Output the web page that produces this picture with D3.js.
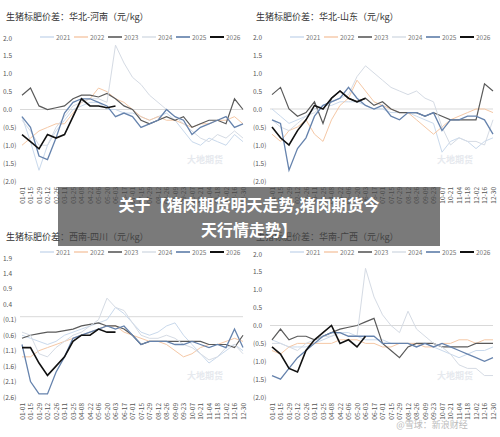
<!DOCTYPE html>
<html><head><meta charset="utf-8">
<script src="https://cdn.jsdelivr.net/npm/d3@7"></script>
<style>body{margin:0;background:#fff}text{font-family:"Noto Sans CJK SC","Noto Sans",sans-serif}</style>
</head><body><div id="chart"></div>
<script>
const dates = ["01-01","01-15","01-29","02-12","02-26","03-11","03-25","04-08","04-22","05-06","05-20","06-03","06-17","07-01","07-15","07-29","08-12","08-26","09-09","09-23","10-07","10-21","11-04","11-18","12-02","12-16","12-30"];
const years = ["2021","2022","2023","2024","2025","2026"];
const colors = ["#c9d9ec","#f5c8a6","#5a5a5a","#d5dbe4","#6683ad","#111"];
const widths = [1,1,1.2,1,1.3,1.6];

const henan = [
  [-0.2,-0.9,-1.7,-1.0,-0.6,-0.3,0.0,0.1,0.2,0.2,0.0,0.0,-0.1,-0.1,-0.2,-0.3,-0.2,-0.1,-0.3,-0.6,-0.9,-1.0,-0.8,-0.9,-1.0,-0.7,-0.9],
  [-1.0,-0.8,-0.6,-0.5,-0.4,-0.4,-0.1,0.2,0.3,0.6,0.5,0.3,0.2,0.0,-0.2,-0.3,-0.2,-0.3,-0.3,-0.4,-0.5,-0.4,-0.4,-0.3,-0.3,-0.2,-0.4],
  [0.4,0.6,0.1,0.0,0.05,0.1,0.3,0.4,0.4,0.35,0.45,0.3,0.1,0.0,-0.3,-0.4,-0.3,-0.2,-0.3,-0.2,-0.5,-0.4,-0.3,-0.3,-0.4,0.3,0.0],
  [-0.3,-0.6,-1.0,-1.0,-0.5,-0.2,0.1,0.2,0.3,0.3,0.2,1.8,1.3,0.9,0.7,0.4,0.2,0.0,-0.2,-0.4,-0.6,-0.8,-0.9,-0.7,-0.8,-0.6,-0.8],
  [-0.2,-0.5,-1.3,-1.4,-0.8,-0.1,0.2,0.3,0.3,0.2,0.1,-0.2,-0.1,-0.2,-0.5,-0.4,-0.3,0.0,-0.2,-0.3,-0.7,-0.5,-0.4,-0.3,-0.2,-0.5,-0.4],
  [-0.7,-0.9,-1.1,-0.7,-0.8,-0.7,-0.2,0.3,0.1,0.1,0.05,0.1]
];
const shandong = [
  [0.0,-0.2,-0.4,-0.3,-0.2,0.0,0.1,0.1,0.2,0.2,0.2,0.1,0.0,0.0,-0.1,-0.1,-0.1,-0.2,-0.3,-0.4,-1.2,-0.9,-0.8,-0.9,-1.1,-0.9,-0.8],
  [-0.7,-0.9,-0.6,-0.5,-0.3,-0.7,-0.9,-0.3,0.1,0.3,0.8,0.5,0.2,0.1,0.0,-0.1,-0.1,-0.3,-0.5,-0.7,-0.5,-0.3,-0.2,-0.1,0.0,0.0,-0.1],
  [0.4,0.6,0.0,-0.2,-0.1,0.2,-0.4,0.3,0.5,0.3,0.2,0.3,0.1,0.2,0.0,-0.1,-0.1,-0.1,-0.2,-0.1,-0.2,-0.3,-0.3,-0.3,-0.3,0.7,0.5],
  [-0.3,-0.5,-0.6,-0.4,-0.2,-0.1,0.1,0.2,0.3,0.4,0.9,1.2,1.0,0.8,0.6,0.5,0.4,0.5,0.3,0.2,-0.5,-1.0,-0.8,-0.9,-0.9,-1.0,-0.3],
  [-0.3,-0.4,-1.7,-1.1,-0.8,-0.2,0.1,0.2,0.3,0.6,0.3,0.1,0.0,0.1,-0.2,-0.3,-0.1,-0.1,-0.2,-0.1,-0.6,-0.3,-0.3,-0.2,-0.2,-0.3,-0.7],
  [-0.5,-0.8,-1.0,-0.6,-0.3,0.1,0.0,0.3,0.5,0.3,0.2,0.3]
];
const sichuan = [
  [-0.6,-0.7,-0.8,-0.9,-0.8,-0.6,-0.5,-0.4,-0.3,-0.2,-0.1,0.3,0.1,-0.2,-0.5,-0.6,-0.5,-0.3,-0.2,-0.6,-0.9,-1.2,-1.5,-1.3,-1.1,-0.9,-1.1],
  [-1.3,-1.3,-1.1,-1.0,-0.9,-0.8,-0.7,-0.6,-0.5,-0.4,-0.3,-0.3,-0.5,-0.6,-0.7,-0.8,-0.8,-0.9,-1.1,-1.3,-1.2,-1.0,-0.9,-0.9,-0.8,-0.7,-0.8],
  [-0.7,-0.6,-0.55,-0.5,-0.5,-0.45,-0.4,-0.3,-0.25,-0.2,-0.3,-0.3,-0.4,-0.6,-0.9,-0.8,-0.8,-0.8,-0.8,-0.8,-0.8,-0.8,-0.9,-0.9,-0.9,-1.0,-0.6],
  [-0.5,-0.6,-1.2,-1.3,-1.0,-0.8,-0.6,-0.5,-0.3,-0.1,0.6,0.3,0.2,-0.2,-0.6,-0.7,-0.7,-0.6,-0.7,-0.9,-1.0,-1.2,-1.4,-1.3,-1.0,-0.9,-1.2],
  [-0.9,-2.1,-2.5,-2.5,-1.8,-1.3,-0.7,-0.6,-0.5,-0.4,-0.3,-0.4,-0.3,-0.6,-0.9,-0.8,-0.8,-0.8,-0.9,-0.9,-0.8,-0.9,-1.0,-0.9,-1.0,-0.4,-1.0],
  [-1.0,-1.0,-1.5,-1.9,-1.6,-1.3,-0.8,-0.6,-0.6,-0.4,-0.5,-0.5]
];
const guangxi = [
  [-0.4,-0.5,-0.6,-0.6,-0.6,-0.5,-0.4,-0.3,-0.2,-0.2,-0.3,-0.4,-0.4,-0.4,-0.5,-0.5,-0.5,-0.5,-0.5,-0.6,-0.7,-0.8,-0.9,-0.8,-0.7,-0.7,-0.6],
  [-0.7,-0.8,-0.6,-0.5,-0.5,-0.5,-0.5,-0.5,-0.4,-0.4,-0.4,-0.5,-0.5,-0.6,-0.6,-0.5,-0.5,-0.5,-0.6,-0.6,-0.5,-0.5,-0.4,-0.4,-0.5,-0.4,-0.4],
  [-0.4,-0.1,-0.4,-0.3,-0.3,-0.4,-0.3,-0.2,-0.1,-0.05,0.0,0.1,0.2,-0.5,-0.7,-0.9,-0.6,-0.5,-0.5,-0.5,-0.6,-0.6,-0.6,-0.6,-0.5,-0.5,-0.5],
  [-0.5,-0.5,-0.6,-0.7,-0.5,-0.4,-0.3,-0.3,-0.2,-0.3,-0.3,1.6,0.8,0.3,0.0,-0.2,0.4,-0.1,-0.3,-0.5,-0.6,-0.8,-1.1,-1.2,-1.2,-1.4,-1.4],
  [-1.4,-1.5,-1.2,-0.9,-0.7,-0.5,-0.3,-0.2,-0.2,-0.3,-0.3,-0.3,-0.3,-0.5,-0.5,-0.5,-0.5,-0.6,-0.5,-0.6,-0.5,-0.6,-0.7,-0.8,-0.9,-1.0,-0.9],
  [-0.6,-0.8,-1.2,-1.3,-0.7,-0.4,-0.2,0.0,-0.5,-0.4,-0.6,-0.3]
];
const ticks4 = [2.0,1.5,1.0,0.5,0.0,-0.5,-1.0,-1.5,-2.0];
const ticksSC = [1.9,1.4,0.9,0.4,-0.1,-0.6,-1.1,-1.6,-2.1,-2.6];

const panels = [
  {title:"生猪标肥价差：华北-河南（元/kg）", data:henan, ticks:ticks4, ox:0, oy:0, top:38, bottom:181},
  {title:"生猪标肥价差：华北-山东（元/kg）", data:shandong, ticks:ticks4, ox:250, oy:0, top:37, bottom:181},
  {title:"生猪标肥价差：西南-四川（元/kg）", data:sichuan, ticks:ticksSC, ox:0, oy:220, top:258, bottom:397},
  {title:"生猪标肥价差：华南-广西（元/kg）", data:guangxi, ticks:ticks4, ox:250, oy:220, top:254, bottom:397}
];

const svg = d3.select("#chart").append("svg").attr("width",500).attr("height",437);
const fmt = v => v < 0 ? `(${Math.abs(v).toFixed(1)})` : v.toFixed(1);

panels.forEach(p => {
  const g = svg.append("g");
  const x = d3.scalePoint().domain(dates).range([p.ox+22, p.ox+243]);
  const y = d3.scaleLinear().domain(d3.extent(p.ticks)).range([p.bottom, p.top]);

  g.append("text").attr("x", p.ox+6).attr("y", p.oy+20).attr("font-size",9).attr("fill","#333").text(p.title);

  const lg = g.selectAll(".lg").data(years).enter().append("g").attr("transform",(d,i)=>`translate(${p.ox+40+i*34},${p.oy+(p.oy?32:37)})`);
  lg.append("line").attr("x1",0).attr("x2",14).attr("stroke",(d,i)=>colors[i]).attr("stroke-width",(d,i)=>widths[i]+0.4);
  lg.append("text").attr("x",16).attr("y",2.5).attr("font-size",6.5).attr("fill","#777").text(d=>d);

  g.selectAll(".yt").data(p.ticks).enter().append("text").attr("x",p.ox+3).attr("y",d=>y(d)+2.5).attr("font-size",6.5).attr("fill","#555").text(fmt);
  g.append("line").attr("x1",p.ox+20).attr("x2",p.ox+243).attr("y1",y(0)).attr("y2",y(0)).attr("stroke","#d9d9d9");

  g.append("text").attr("x",p.ox+205).attr("y",p.bottom-18).attr("font-size",9).attr("font-weight","bold").attr("fill","#e6e9ee").attr("text-anchor","middle").text("大地期货");

  const line = d3.line().x((d,i)=>x(dates[i])).y(d=>y(d));
  p.data.forEach((s,i) => {
    g.append("path").datum(s).attr("d",line).attr("fill","none").attr("stroke",colors[i]).attr("stroke-width",widths[i]);
  });

  g.selectAll(".xt").data(dates).enter().append("text")
    .attr("transform",d=>`translate(${x(d)+2.5},${p.bottom+6}) rotate(-90)`)
    .attr("text-anchor","end").attr("font-size",6.5).attr("fill","#555").text(d=>d);
});

svg.append("text").attr("x",432).attr("y",428).attr("font-size",9).attr("fill","#bbb").attr("text-anchor","middle").text("@雪球：新浪财经");

svg.append("rect").attr("x",58).attr("y",187).attr("width",382).attr("height",59).attr("fill","rgba(70,70,70,0.72)");
svg.append("text").attr("x",249).attr("y",211).attr("text-anchor","middle").attr("font-size",16).attr("font-weight","bold").attr("fill","#fff").text("关于【猪肉期货明天走势,猪肉期货今");
svg.append("text").attr("x",249).attr("y",236).attr("text-anchor","middle").attr("font-size",16).attr("font-weight","bold").attr("fill","#fff").text("天行情走势】");
</script></body></html>
